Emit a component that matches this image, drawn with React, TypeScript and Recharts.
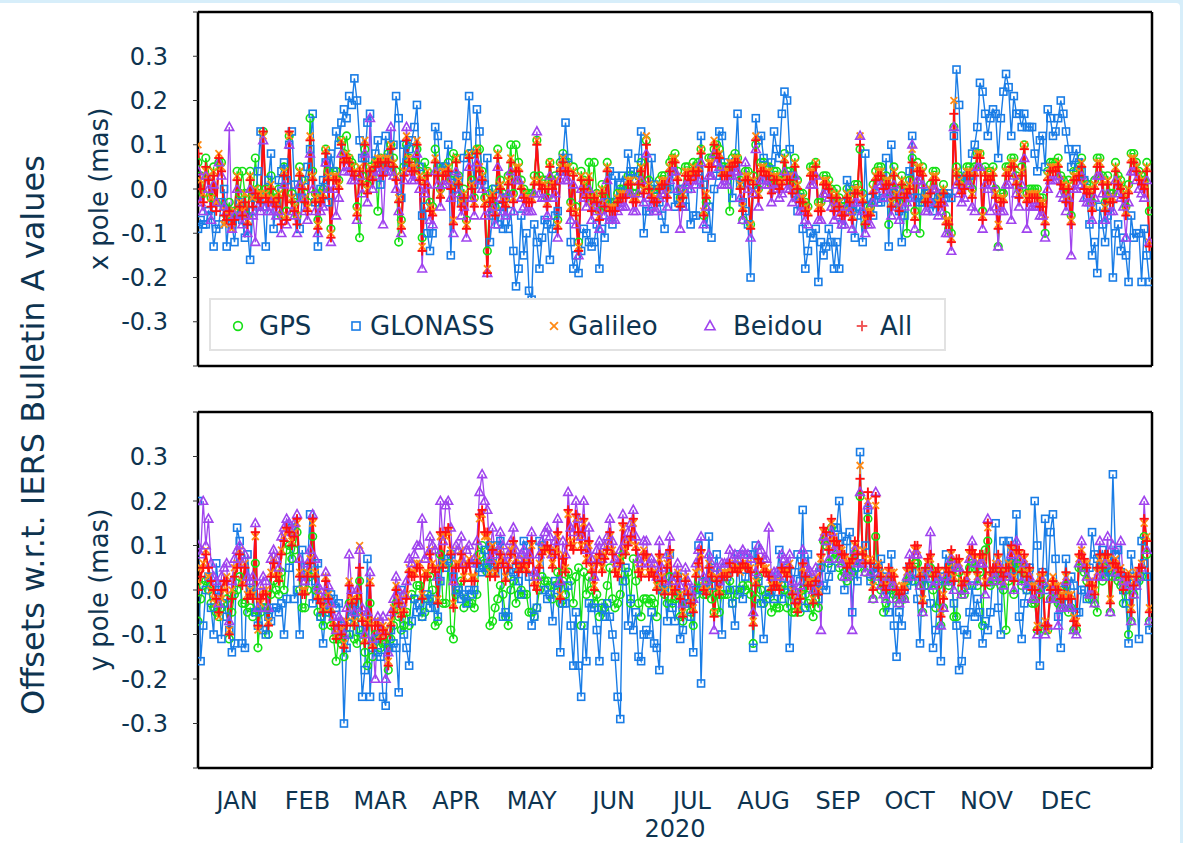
import React from 'react';
import { LineChart, Line, XAxis, YAxis } from 'recharts';

// ---------- axis / label data ----------
const MONTHS = ['JAN', 'FEB', 'MAR', 'APR', 'MAY', 'JUN', 'JUL', 'AUG', 'SEP', 'OCT', 'NOV', 'DEC'];
const MONTH_START_DAYS = [0, 31, 60, 91, 121, 152, 182, 213, 244, 274, 305, 335, 366];
const MONTH_LABEL_DAYS = [15, 42, 70, 99, 128, 159.5, 189.5, 217, 245.5, 273, 302.5, 333];
const Y_TICKS = [-0.4, -0.3, -0.2, -0.1, 0, 0.1, 0.2, 0.3, 0.4];
const YEAR_LABEL = '2020';
const SERIES_NAMES = ['GPS', 'GLONASS', 'Galileo', 'Beidou', 'All'];

// ---------- x pole offsets, daily 2020, in units of 0.01 mas ----------
const X_GPS = [6,3,-1,7,4,-2,5,-3,6,6,
-4,-6,-3,-6,-5,4,-1,4,-1,-6,
4,-2,7,0,-1,13,0,-1,3,-1,
-2,0,-6,5,-5,12,-1,-3,-6,5,
2,-1,-3,16,4,-1,-7,-1,0,9,
4,-9,4,4,2,11,8,12,7,6,
5,-4,-11,3,9,1,5,4,6,-5,
7,5,7,8,10,7,4,-12,-7,5,
10,7,6,6,9,4,-11,6,4,-3,
-4,9,5,0,5,5,6,2,8,7,
3,-2,0,-7,8,2,-2,9,9,4,
-2,-14,-1,0,-4,9,2,-1,-2,3,
10,-1,10,6,2,0,-1,-1,-1,3,
11,3,2,2,-2,6,2,3,-7,6,
8,6,6,-3,5,-4,-12,4,2,0,
6,-3,6,-1,-5,1,-2,6,-3,-3,
-3,-1,0,0,0,3,3,-1,-1,3,
6,1,11,2,0,-1,-1,2,3,3,
0,6,7,8,4,-2,0,5,5,4,
6,5,6,9,-6,-3,7,7,9,10,
9,5,5,4,-5,7,8,7,2,-7,
4,4,-8,3,10,0,6,6,5,5,
1,4,4,2,3,8,4,4,1,7,
2,-1,-1,-3,-4,5,5,6,-3,-3,
3,3,2,0,-3,0,-2,-4,-4,0,
-1,-5,1,1,9,-1,-8,-4,-4,1,
4,5,5,2,3,-8,-2,5,0,-3,
3,0,-10,2,7,-5,6,-10,5,-1,
-1,1,4,4,-2,-1,1,-6,-9,-10,
14,5,3,1,2,5,5,0,5,8,
8,-5,5,4,4,5,0,-13,-1,-1,
5,5,7,7,3,0,5,10,-1,0,
0,0,0,-2,-2,-10,4,6,6,6,
7,3,2,-1,2,-6,4,4,5,7,
2,1,1,-3,2,7,7,3,-3,3,
-1,-1,6,3,2,0,-4,1,8,8,
6,4,3,2,6,-5];

const X_GLONASS = [-9,-7,-8,-8,-5,-6,-13,-9,-8,-3,
0,-13,-6,-8,-12,-6,-3,-7,-11,-9,
-16,-5,-2,4,13,-4,-13,2,8,-9,
-3,2,4,6,2,10,13,1,-2,-9,
-2,2,5,9,17,-3,-13,0,2,6,
-3,8,4,13,10,15,18,16,21,19,
25,20,11,7,7,15,17,4,8,11,
1,5,12,7,4,10,21,16,-2,10,
6,9,11,14,19,5,-6,-4,-10,-14,
-10,14,12,5,4,5,10,-15,3,0,
2,-3,7,12,21,8,1,18,13,2,
1,7,-12,-6,0,-8,-4,-9,-2,-9,
-5,-14,-22,-18,-6,-15,-10,-23,-25,-8,
-12,-18,-11,-7,-8,-16,-9,-6,-5,4,
7,15,7,-12,-18,-15,-19,-14,-9,-10,
-12,-13,-12,-8,-18,-9,-11,-3,4,-8,
3,-3,1,3,-1,8,4,4,2,7,
13,-10,-5,-5,7,1,0,-3,-6,-9,
0,0,4,-4,-2,0,-4,-4,0,-8,
-6,-6,4,12,1,-9,-4,-11,0,3,
13,12,6,4,3,-2,6,17,1,-3,
-5,-8,-20,1,16,11,12,7,2,3,
6,13,9,7,17,22,20,9,3,-1,
-5,-2,-9,-18,-14,-10,-11,-9,-21,-12,
-15,-13,-9,-12,-18,-12,-18,-8,-3,2,
0,-5,-11,-6,-4,-12,8,-4,-2,-6,
-1,-3,-3,-2,7,-13,10,-1,-3,-5,
-12,-6,-1,4,12,-2,-2,-3,-3,-1,
-1,-3,-5,-3,-2,-2,-1,-2,-1,-2,
12,27,19,2,2,3,3,8,10,14,
24,22,17,12,16,18,17,7,16,22,
26,23,12,21,17,17,14,17,14,14,
14,8,4,11,12,5,18,16,12,13,
16,20,17,13,9,5,7,9,6,4,
2,-2,-8,-15,-12,-19,-4,-8,-12,-6,
-4,-20,-10,-8,-14,-11,-15,-21,-6,-11,
-10,-10,-21,-9,-15,-21];

const X_GALILEO = [10,2,-1,4,3,-2,4,-3,8,5,
-8,-5,-6,-9,-5,3,-3,-5,-1,-7,
3,-2,0,-1,-1,12,-1,-2,1,-2,
-3,-1,-6,4,-6,12,-2,-4,-6,4,
1,-2,-4,12,3,-2,-8,-2,-1,9,
3,-10,3,3,1,11,7,8,7,5,
4,-5,5,2,11,0,5,3,6,7,
7,4,7,7,10,6,3,-2,-8,4,
12,7,5,5,11,3,-13,2,4,-4,
-5,7,4,-1,4,4,5,1,-7,7,
2,-3,-1,-8,8,1,-3,9,5,3,
-3,-18,-2,-1,-5,8,1,-2,-3,2,
7,-2,5,5,1,-1,-2,-2,-2,2,
11,2,1,1,-3,6,1,2,-8,5,
7,5,5,-4,4,-5,-13,3,1,-1,
3,-4,-1,-2,-6,0,-3,5,-4,-4,
-4,-2,-1,-1,-1,2,2,-2,-2,2,
5,0,12,1,-1,-2,-2,1,2,2,
-1,5,7,7,3,-3,-1,4,4,3,
5,4,5,9,-5,-1,6,6,11,9,
8,4,4,4,6,6,7,7,1,-4,
3,3,-8,2,12,-1,5,5,4,4,
0,3,3,1,2,7,3,3,0,6,
1,-2,-2,-4,-5,4,4,6,-4,-4,
2,2,1,-1,-4,-1,-3,-5,-5,-1,
-2,-6,0,0,12,-2,-7,-5,-5,0,
3,4,4,1,2,2,-3,4,-1,-4,
2,-1,0,1,9,-6,5,5,4,-2,
-2,0,3,3,-3,-2,0,-7,-7,-11,
20,4,2,0,1,4,4,-1,4,8,
8,-6,4,3,3,4,-1,-8,-2,-2,
4,4,6,6,2,-1,4,10,-2,-1,
-1,-1,-1,-3,-3,-7,3,5,5,5,
6,2,1,-2,1,-7,3,3,4,6,
1,0,0,-4,1,6,6,2,-4,2,
-2,-2,5,2,1,-1,-5,0,7,7,
5,3,2,1,5,-12];

const X_BEIDOU = [4,-3,-5,3,0,-7,1,-3,6,3,
-4,-5,14,-9,-6,0,-6,-8,-6,-10,
0,-6,-12,-4,-5,11,-4,-5,-3,-5,
-6,-5,-10,1,-8,10,-5,-6,-10,1,
-2,-5,-7,8,0,-5,-10,-5,-4,6,
0,-12,0,-6,-2,8,4,5,4,2,
2,-7,3,-1,8,-3,16,0,3,4,
4,-8,4,4,14,3,0,-5,-10,2,
14,4,2,2,8,0,-18,-1,1,-7,
-8,4,1,-4,1,1,2,-2,-10,4,
-1,-6,-4,-11,5,-2,-6,6,2,0,
-6,-19,-5,-4,-8,5,-2,-5,-6,-1,
4,-5,2,2,-2,-4,-5,-5,-5,-1,
13,-1,-2,-2,-6,3,-2,-1,-11,2,
4,2,2,-7,1,-8,-15,0,-2,-4,
0,-7,-4,-5,-9,-3,-6,2,-7,-7,
-7,-5,-4,-4,-4,-1,-1,-5,-5,-1,
2,-3,8,-2,-4,-5,-5,-2,-1,-1,
-4,2,4,4,0,-9,-4,1,1,0,
2,1,2,6,-8,-4,3,3,8,6,
5,1,1,1,3,3,4,4,-2,-7,
6,0,-11,-1,9,-4,2,2,1,1,
-3,0,0,-2,-1,4,0,0,-3,3,
-2,-5,-5,-7,-8,1,1,3,-7,-7,
-1,-1,-2,-4,-7,-4,-6,-8,-8,-4,
-5,-9,-3,-3,12,-5,-10,-8,-8,-3,
0,1,1,-2,-1,-1,-6,1,-4,-7,
-1,-4,-3,-2,10,-9,2,2,1,-5,
-5,-3,0,0,-6,-5,-3,-10,-10,-14,
14,1,-1,-3,-2,1,1,-4,-5,5,
5,-9,1,0,-5,1,-4,-13,-5,-5,
1,1,-7,3,-1,-4,1,7,-9,-4,
-4,-4,-4,-6,-6,-11,0,2,2,2,
3,-1,-2,-5,-2,-15,0,0,1,3,
-2,-3,-3,-7,-2,3,3,-1,-7,-1,
-5,-5,2,-1,-2,-4,-11,-3,4,4,
2,0,-1,-2,2,-12];

const X_ALL = [8,0,-3,5,2,-4,3,-5,7,4,
-6,-7,-5,-8,-7,2,-4,-6,-3,-8,
2,-4,-1,-2,-3,13,-2,-3,0,-3,
-4,-2,-8,3,-7,13,-3,-5,-8,3,
0,-3,-5,11,2,-3,-9,-3,-2,8,
2,-11,2,2,0,10,6,7,6,4,
3,-6,4,1,10,-1,4,2,5,6,
6,3,6,6,9,5,2,-3,-9,3,
11,6,4,4,10,2,-14,1,3,-5,
-6,6,3,-2,3,3,4,0,-8,6,
1,-4,-2,-9,7,0,-4,8,4,2,
-4,-19,-3,-2,-6,7,0,-3,-4,1,
6,-3,4,4,0,-2,-3,-3,-3,1,
10,1,0,0,-4,5,0,1,-9,4,
6,4,4,-5,3,-6,-14,2,0,-2,
2,-5,-2,-3,-7,-1,-4,4,-5,-5,
-5,-3,-2,-2,-2,1,1,-3,-3,1,
4,-1,10,0,-2,-3,-3,0,1,1,
-2,4,6,6,2,-4,-2,3,3,2,
4,3,4,8,-6,-2,5,5,10,8,
7,3,3,3,5,5,6,6,0,-5,
2,2,-9,1,11,-2,4,4,3,3,
-1,2,2,0,1,6,2,2,-1,5,
0,-3,-3,-5,-6,3,3,5,-5,-5,
1,1,0,-2,-5,-2,-4,-6,-6,-2,
-3,-7,-1,-1,10,-3,-8,-6,-6,-1,
2,3,3,0,1,1,-4,3,-2,-5,
1,-2,-1,0,6,-7,4,4,3,-3,
-3,-1,2,2,-4,-3,-1,-8,-8,-12,
17,3,1,-1,0,3,3,-2,3,7,
7,-7,3,2,2,3,-2,-9,-3,-3,
3,3,5,5,1,-2,3,9,-3,-2,
-2,-2,-2,-4,-4,-8,2,4,4,4,
5,1,0,-3,0,-8,2,2,3,5,
0,-1,-1,-5,0,5,5,1,-5,1,
-3,-3,4,1,0,-2,-6,-1,6,6,
4,2,1,0,4,-13];

// ---------- y pole offsets, daily 2020, in units of 0.01 mas ----------
const Y_GPS = [-7,-2,1,2,0,-3,-4,-5,-6,-4,
-3,-2,-11,-5,-1,0,3,-3,-3,-5,
-4,-6,6,-13,-5,-4,-4,-10,-1,2,
0,-1,4,0,9,10,7,9,13,0,
-4,-4,0,3,12,0,-5,-6,-8,-2,
-5,-8,-11,-16,-11,-12,-15,-10,-3,-6,
-11,-12,2,-10,-14,-17,-3,-15,-10,-11,
-13,-12,-12,-18,-11,-8,-3,-6,-9,-8,
-5,-8,-1,-2,1,1,-6,-5,-2,3,
0,-8,-7,8,-3,-3,6,-9,-11,-1,
0,2,-4,-2,-3,-3,-4,-1,8,10,
6,4,-8,-7,-4,-2,1,-1,-6,-8,
0,2,-3,-1,0,-1,-1,-5,-5,-6,
-4,0,3,2,2,1,-2,1,4,-3,
2,-1,4,2,-3,3,5,-8,4,-1,
3,0,-3,-1,-6,-3,-4,1,5,-2,
-4,-3,-1,8,2,4,-3,7,2,-3,
-6,-2,-2,-3,-2,-3,-6,1,0,-1,
-3,3,-3,-2,-1,-6,-7,-3,-3,-5,
-8,-1,2,0,-1,-1,2,-2,-5,-1,
-5,-1,-1,-1,2,-3,0,-1,0,1,
0,1,-1,-12,-2,3,0,-3,-1,-1,
-5,-3,-4,-4,1,0,-4,-1,-5,-5,
-3,-5,0,-1,-3,-4,-6,-2,-4,5,
11,10,6,14,7,8,5,3,4,2,
3,4,8,5,21,6,4,16,3,-2,
12,2,0,-5,-3,2,0,-1,-2,-3,
-2,-2,2,3,2,6,6,1,-5,1,
4,5,0,-4,1,-8,-4,2,1,6,
-6,-6,4,-1,-1,1,5,6,5,1,
4,-8,9,11,1,2,2,4,1,0,
-9,2,6,-1,6,5,1,4,0,1,
-3,-3,-9,-1,1,-9,-9,-2,0,-2,
-3,-4,-4,1,-5,-4,-9,-9,5,5,
4,2,-2,-2,-3,-5,5,2,5,4,
-5,3,3,2,1,-3,0,-10,-7,-1,
1,2,3,12,8,-7];

const Y_GLONASS = [20,-16,-8,0,3,-4,-10,6,0,-11,
-3,-6,-9,-14,-12,14,11,-12,-13,8,
0,-1,-5,-8,-4,-9,-10,-6,-7,-4,
-4,-5,-3,-10,-2,5,14,-2,0,-10,
9,2,5,17,-3,2,6,-6,-12,-5,
-3,-1,-2,-4,-3,-8,-30,-13,-10,-6,
-3,-5,-9,-24,-18,7,-24,-13,-11,-14,
-15,-24,-26,-13,-9,-12,-13,-23,0,-10,
-13,-17,-7,-2,-5,-3,-6,-2,-1,-4,
-2,-4,-6,2,6,5,7,8,3,0,
0,-2,-1,-3,0,-1,0,6,5,4,
9,5,10,6,4,10,11,-6,-5,-6,
3,4,5,2,-1,11,10,3,-8,-6,
-4,11,10,0,-2,-1,-7,2,0,-14,
-3,-3,1,-8,-17,-5,-17,-24,-8,-16,
-3,-4,-4,-9,-16,-4,-6,-3,-6,-10,
-15,-24,-29,2,5,-8,-2,-9,-5,-15,
-16,-10,-9,-10,-5,-12,-13,-18,0,0,
-7,8,-4,-7,3,-11,-9,-3,-2,-6,
-14,0,10,-21,0,2,12,1,5,8,
2,-10,5,3,0,-3,-8,8,0,-2,
3,8,8,-13,10,2,-3,-11,-2,0,
3,-2,2,9,-2,1,5,-13,0,4,
8,2,18,-4,8,2,2,0,-2,5,
1,0,3,5,14,14,20,12,0,11,
13,-5,5,2,31,6,10,18,2,5,
4,5,7,3,0,-5,8,-8,-15,-5,
-8,0,1,5,4,2,-2,-12,3,4,
1,-3,-13,-9,2,-16,3,8,5,2,
-3,-8,-18,-16,-9,-10,-5,1,-6,-2,
-5,-12,-7,-9,-5,4,15,-4,-10,11,
4,11,6,3,17,-6,-11,-3,0,5,
1,20,10,-17,4,16,0,13,17,7,
-6,-13,0,7,-3,3,1,-5,-5,0,
0,-2,5,13,8,7,5,9,3,7,
4,26,8,9,4,0,-3,-12,8,3,
1,-11,11,6,3,-9];

const Y_GALILEO = [2,5,6,9,3,0,-2,-3,-6,-2,
0,3,-9,0,5,6,9,2,6,-1,
0,-1,12,-9,-3,0,0,-7,4,7,
4,3,9,12,13,14,11,13,15,4,
0,0,4,7,15,4,-1,-2,-4,3,
-1,-4,-7,-10,-9,-9,-12,-7,2,-2,
-7,-1,10,-6,-11,-7,2,-12,-7,-7,
-10,-8,-9,-16,-7,-4,1,-2,-5,-4,
-1,5,4,4,6,6,-1,4,4,9,
6,5,-2,12,6,12,13,9,-3,6,
6,9,3,6,7,3,3,7,16,17,
12,12,4,10,4,6,9,7,3,6,
9,10,7,5,6,7,5,7,10,2,
1,6,9,10,9,8,6,9,12,-1,
8,5,17,11,10,16,12,10,15,7,
10,5,1,7,7,5,8,10,12,9,
5,4,7,14,9,11,11,15,10,5,
4,9,7,4,5,4,1,7,3,0,
6,8,0,1,4,-1,-5,3,0,-2,
-4,4,5,8,1,0,6,4,-5,3,
0,4,4,4,5,5,6,5,4,5,
6,6,5,-7,2,6,7,5,5,4,
1,2,2,1,4,5,4,6,0,-2,
-4,-1,5,4,2,2,-2,3,0,7,
13,12,10,15,12,10,9,9,7,6,
7,6,10,9,28,9,7,20,7,1,
19,6,4,2,1,4,4,4,1,0,
1,1,4,5,6,9,9,4,-2,4,
6,7,4,3,4,-5,-1,4,5,8,
3,6,6,2,1,3,8,8,7,3,
7,7,2,14,3,4,6,7,5,2,
4,6,9,3,8,8,5,7,4,4,
1,1,-8,3,3,-7,-9,1,3,1,
1,-1,-1,3,-1,-1,-6,-7,7,9,
6,6,2,2,0,4,7,6,7,7,
-2,5,7,4,5,1,2,4,-4,2,
4,4,6,15,12,-4];

const Y_BEIDOU = [10,8,20,10,16,6,3,2,-3,3,
5,6,-7,2,7,9,10,6,8,3,
2,3,15,-4,1,3,2,-4,7,9,
7,5,12,14,16,15,13,15,17,7,
3,2,6,9,17,7,1,0,-2,4,
1,-3,-6,-9,-6,-7,-10,-4,8,0,
-5,0,9,-4,-10,-5,4,-11,-20,-6,
-9,-6,-20,-14,-5,-2,3,0,-3,-1,
2,7,6,8,10,10,16,7,8,12,
10,9,3,20,11,19,20,14,2,10,
9,12,6,9,10,6,7,11,22,26,
20,18,7,14,8,9,13,10,6,8,
11,14,9,7,8,9,7,8,13,4,
3,8,11,13,14,12,8,11,16,2,
11,8,22,14,13,20,16,12,20,9,
14,7,3,9,11,7,10,12,16,11,
7,6,9,17,11,13,15,18,12,7,
6,11,11,6,7,6,3,11,5,2,
8,12,2,3,6,1,-3,5,2,0,
-2,6,9,12,3,2,8,6,-9,5,
2,6,6,6,9,7,8,7,8,9,
8,8,7,-5,4,10,9,7,7,14,
3,4,4,3,8,7,6,8,2,0,
-2,1,9,6,4,4,0,5,2,-9,
12,11,7,13,9,9,7,6,3,3,
4,-9,9,6,22,6,4,19,4,-2,
22,3,1,-1,-2,3,1,1,-2,-3,
-2,-2,3,8,3,8,8,1,-5,3,
5,13,1,2,3,-8,-4,3,2,7,
0,5,5,-1,0,2,7,11,6,2,
6,6,-1,16,2,3,3,6,2,1,
3,3,8,0,11,7,2,6,1,3,
-2,-2,-10,0,2,-10,-8,-2,0,-2,
-8,-4,-4,2,-4,-4,-9,-10,6,11,
5,3,-1,-1,-3,3,11,3,6,12,
-5,10,4,3,11,2,1,1,-7,-1,
1,3,5,20,9,-7];

const Y_ALL = [0,3,5,8,5,2,0,-2,-5,0,
2,2,-10,-2,3,5,8,1,5,-2,
-1,-2,13,-8,-2,-1,-1,-8,3,6,
3,2,8,11,14,13,10,12,16,3,
-1,-1,3,6,16,3,-2,-3,-5,2,
-2,-5,-8,-11,-8,-10,-13,-8,1,-3,
-8,-2,5,-7,-12,-8,1,-13,-8,-8,
-11,-9,-10,-17,-8,-5,0,-3,-6,-5,
-2,4,3,3,5,5,-2,3,3,8,
5,4,-3,13,5,13,14,8,-4,5,
5,8,2,5,6,2,2,6,17,18,
13,13,3,9,3,5,8,6,2,5,
8,11,6,4,5,6,4,6,11,1,
0,5,8,9,10,9,5,8,13,-2,
7,4,18,10,9,17,13,9,16,6,
11,4,0,6,8,4,7,9,13,8,
4,3,6,15,8,10,12,16,9,4,
3,8,8,3,4,3,0,8,2,-1,
5,9,-1,0,3,-2,-6,2,-1,-3,
-5,3,6,9,0,-1,5,3,-6,2,
-1,3,3,3,6,4,5,4,5,6,
5,5,4,-8,1,7,6,4,4,3,
0,1,1,0,5,4,3,5,-1,-3,
-5,-2,6,3,1,1,-3,2,-1,8,
14,13,9,16,11,11,10,8,8,5,
6,7,11,8,25,8,6,22,6,0,
21,5,3,1,0,5,3,3,0,-1,
0,0,5,6,5,10,10,3,-3,5,
7,8,3,4,5,-6,-2,5,4,9,
2,7,7,1,2,4,9,9,8,4,
8,8,1,15,4,5,5,8,4,3,
5,5,10,2,9,9,4,8,3,5,
0,0,-9,2,4,-8,-8,0,2,0,
0,-2,-2,4,-2,-2,-7,-8,8,8,
7,5,1,1,-1,5,8,5,8,8,
-3,6,6,5,4,0,3,3,-5,1,
3,5,5,16,11,-5];

// ---------- styling ----------
const FONT = '"DejaVu Sans", Verdana, sans-serif';
const TEXT = '#0e3450';
const COLORS = {
  gps: '#14e014',
  glonass: '#1a7de6',
  galileo: '#ff8a14',
  beidou: '#a044ee',
  all: '#ff1010',
};

type Row = { day: number; gps?: number; glonass?: number; galileo?: number; beidou?: number; all?: number };

function buildRows(gps: number[], glo: number[], gal: number[], bei: number[], all: number[]): Row[] {
  const n = Math.max(gps.length, glo.length, gal.length, bei.length, all.length);
  const rows: Row[] = [];
  for (let i = 0; i < n; i++) {
    rows.push({
      day: i,
      gps: gps[i] === undefined ? undefined : gps[i] / 100,
      glonass: glo[i] === undefined ? undefined : glo[i] / 100,
      galileo: gal[i] === undefined ? undefined : gal[i] / 100,
      beidou: bei[i] === undefined ? undefined : bei[i] / 100,
      all: all[i] === undefined ? undefined : all[i] / 100,
    });
  }
  return rows;
}

const X_ROWS = buildRows(X_GPS, X_GLONASS, X_GALILEO, X_BEIDOU, X_ALL);
const Y_ROWS = buildRows(Y_GPS, Y_GLONASS, Y_GALILEO, Y_BEIDOU, Y_ALL);

type Shape = 'circle' | 'square' | 'cross' | 'triangle' | 'plus';

function Marker({ shape, cx, cy, color, s = 1 }: { shape: Shape; cx: number; cy: number; color: string; s?: number }) {
  const sw = 1.6;
  switch (shape) {
    case 'circle':
      return <circle cx={cx} cy={cy} r={3.8 * s} fill="none" stroke={color} strokeWidth={sw} />;
    case 'square':
      return <rect x={cx - 3.5 * s} y={cy - 3.5 * s} width={7 * s} height={7 * s} fill="none" stroke={color} strokeWidth={sw} />;
    case 'cross':
      return (
        <g stroke={color} strokeWidth={sw + 0.2}>
          <line x1={cx - 3.4 * s} y1={cy - 3.4 * s} x2={cx + 3.4 * s} y2={cy + 3.4 * s} />
          <line x1={cx - 3.4 * s} y1={cy + 3.4 * s} x2={cx + 3.4 * s} y2={cy - 3.4 * s} />
        </g>
      );
    case 'triangle':
      return (
        <polygon
          points={`${cx},${cy - 4.7 * s} ${cx - 4.4 * s},${cy + 3.3 * s} ${cx + 4.4 * s},${cy + 3.3 * s}`}
          fill="none"
          stroke={color}
          strokeWidth={sw}
        />
      );
    case 'plus':
    default:
      return (
        <g stroke={color} strokeWidth={sw + 0.3}>
          <line x1={cx - 4.6 * s} y1={cy} x2={cx + 4.6 * s} y2={cy} />
          <line x1={cx} y1={cy - 4.6 * s} x2={cx} y2={cy + 4.6 * s} />
        </g>
      );
  }
}

const makeDot = (shape: Shape, color: string) => (p: any) => {
  const { cx, cy, index } = p;
  if (typeof cx !== 'number' || typeof cy !== 'number' || isNaN(cx) || isNaN(cy)) {
    return <g key={`e-${shape}-${index}`} />;
  }
  return (
    <g key={`d-${shape}-${index}`}>
      <Marker shape={shape} cx={cx} cy={cy} color={color} />
    </g>
  );
};

const SERIES: { key: keyof Row; shape: Shape; color: string; width: number }[] = [
  { key: 'gps', shape: 'circle', color: COLORS.gps, width: 1.3 },
  { key: 'glonass', shape: 'square', color: COLORS.glonass, width: 1.4 },
  { key: 'galileo', shape: 'cross', color: COLORS.galileo, width: 1.3 },
  { key: 'beidou', shape: 'triangle', color: COLORS.beidou, width: 1.3 },
  { key: 'all', shape: 'plus', color: COLORS.all, width: 2 },
];

const FRAME = { stroke: '#000', strokeWidth: 2.5 };
const TICKLINE = { stroke: '#333', strokeWidth: 1 };

const yTickFmt = (v: number) => (Math.abs(v) > 0.35 ? '' : v.toFixed(1));
const monthFmt = (v: number) => {
  const i = MONTH_LABEL_DAYS.indexOf(v);
  return i >= 0 ? MONTHS[i] : '';
};

function renderLines() {
  return SERIES.map((s) => (
    <Line
      key={s.key}
      type="linear"
      dataKey={s.key}
      stroke={s.color}
      strokeWidth={s.width}
      dot={makeDot(s.shape, s.color)}
      activeDot={false}
      isAnimationActive={false}
      connectNulls
    />
  ));
}

function Panel({ rows, title, withMonths }: { rows: Row[]; title: string; withMonths: boolean }) {
  const height = withMonths ? 443 : 400;
  return (
    <LineChart
      width={1183}
      height={height}
      data={rows}
      margin={{ top: 6, right: 21, bottom: withMonths ? 0 : 24, left: 0 }}
    >
      <XAxis
        xAxisId="top"
        orientation="top"
        type="number"
        dataKey="day"
        domain={[0, 366]}
        ticks={MONTH_START_DAYS}
        interval={0}
        tick={false}
        tickSize={5}
        height={6}
        axisLine={FRAME}
        tickLine={TICKLINE}
        allowDataOverflow
      />
      <XAxis
        type="number"
        dataKey="day"
        domain={[0, 366]}
        ticks={MONTH_START_DAYS}
        interval={0}
        tick={false}
        tickSize={5}
        height={withMonths ? 6 : 10}
        axisLine={FRAME}
        tickLine={TICKLINE}
        allowDataOverflow
      />
      {withMonths && (
        <XAxis
          xAxisId="months"
          type="number"
          dataKey="day"
          domain={[0, 366]}
          ticks={MONTH_LABEL_DAYS}
          interval={0}
          tickFormatter={monthFmt}
          tickSize={0}
          tickMargin={18}
          tickLine={false}
          axisLine={false}
          height={69}
          tick={{ fontSize: 24, fill: TEXT, fontFamily: FONT }}
          label={{ value: YEAR_LABEL, position: 'insideBottom', offset: 6, fill: TEXT, fontSize: 24, fontFamily: FONT }}
          allowDataOverflow
        />
      )}
      <YAxis
        type="number"
        domain={[-0.4, 0.4]}
        ticks={Y_TICKS}
        interval={0}
        tickFormatter={yTickFmt}
        width={198}
        tickSize={5}
        tickMargin={25}
        axisLine={FRAME}
        tickLine={TICKLINE}
        tick={{ fontSize: 24, fill: TEXT, fontFamily: FONT }}
        label={{ value: title, angle: -90, position: 'center', fill: TEXT, fontSize: 26, fontFamily: FONT }}
        allowDataOverflow
      />
      <YAxis
        yAxisId="right"
        orientation="right"
        type="number"
        domain={[-0.4, 0.4]}
        ticks={Y_TICKS}
        interval={0}
        tick={false}
        tickSize={5}
        width={10}
        axisLine={FRAME}
        tickLine={TICKLINE}
        allowDataOverflow
      />
      {renderLines()}
    </LineChart>
  );
}

const LEGEND_ITEMS: { shape: Shape; color: string; mx: number; tx: number }[] = [
  { shape: 'circle', color: COLORS.gps, mx: 27, tx: 48 },
  { shape: 'square', color: COLORS.glonass, mx: 145, tx: 159 },
  { shape: 'cross', color: COLORS.galileo, mx: 343, tx: 357 },
  { shape: 'triangle', color: COLORS.beidou, mx: 499, tx: 522 },
  { shape: 'plus', color: '#f05555', mx: 651, tx: 669 },
];

function LegendBox() {
  return (
    <div
      style={{
        position: 'absolute',
        left: 209,
        top: 298,
        width: 733,
        height: 49,
        background: '#fff',
        border: '2px solid #e2e2e2',
      }}
    >
      <svg width={733} height={49} style={{ display: 'block' }}>
        {LEGEND_ITEMS.map((it, i) => (
          <g key={SERIES_NAMES[i]}>
            <Marker shape={it.shape} cx={it.mx} cy={26} color={it.color} s={1.15} />
            <text x={it.tx} y={35} fontSize={26} fill={TEXT} fontFamily={FONT}>
              {SERIES_NAMES[i]}
            </text>
          </g>
        ))}
      </svg>
    </div>
  );
}

export default function App() {
  return (
    <div style={{ position: 'absolute', left: 0, top: 0, width: 1183, height: 843, background: '#d7eefa', overflow: 'hidden', fontFamily: FONT }}>
      <style>{'body{margin:0}'}</style>
      <div style={{ position: 'absolute', left: 0, top: 3, width: 1180, height: 840, background: '#fff', borderTopRightRadius: 4 }} />
      <div style={{ position: 'absolute', left: 0, top: 0 }}>
        <Panel rows={X_ROWS} title="x pole (mas)" withMonths={false} />
      </div>
      <div style={{ position: 'absolute', left: 0, top: 400 }}>
        <Panel rows={Y_ROWS} title="y pole (mas)" withMonths={true} />
      </div>
      <LegendBox />
      <svg style={{ position: 'absolute', left: 0, top: 0 }} width={70} height={843}>
        <text
          x={33}
          y={435}
          transform="rotate(-90 33 435)"
          textAnchor="middle"
          dominantBaseline="central"
          fontSize={32}
          fill={TEXT}
          fontFamily={FONT}
        >
          Offsets w.r.t. IERS Bulletin A values
        </text>
      </svg>
    </div>
  );
}
